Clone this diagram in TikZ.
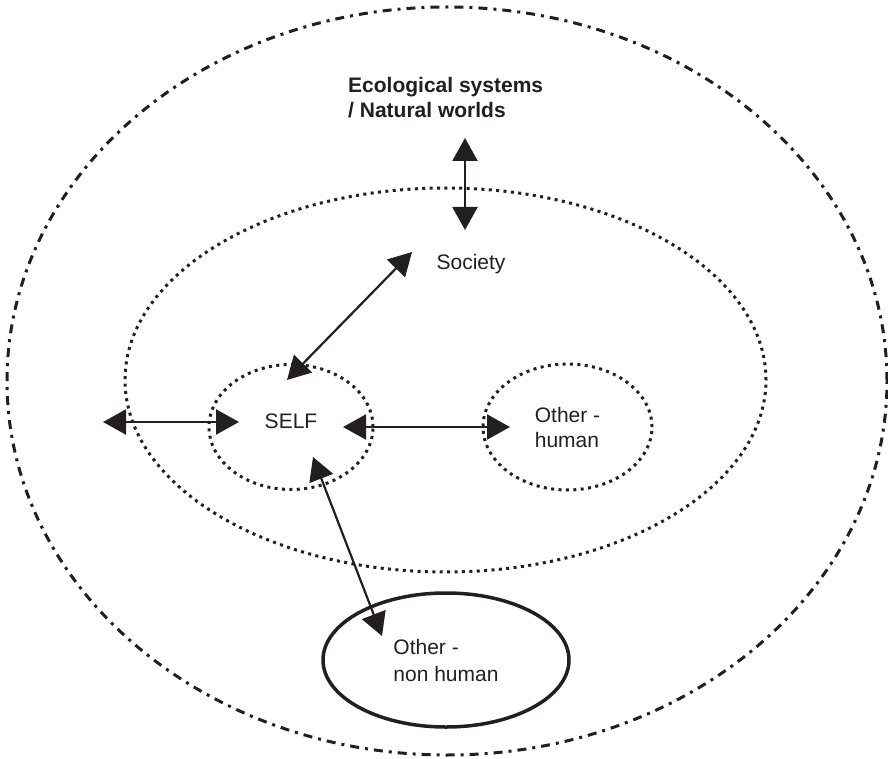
\documentclass[tikz,border=0pt]{standalone}
\usepackage{fontspec}
\setmainfont{Liberation Sans}
\usetikzlibrary{shapes.geometric,arrows.meta}

\definecolor{ink}{RGB}{35,31,32}
\tikzset{
  ring/.style={ellipse, draw, inner sep=0pt, line width=3pt, dash pattern=on 3pt off 4.4pt},
  world/.style={ellipse, draw, inner sep=0pt, line width=3pt, dash pattern=on 9pt off 6pt on 3pt off 6pt},
  link/.style={line width=2.2pt, {Triangle[length=23pt,width=25pt]}-{Triangle[length=23pt,width=25pt]}}
}

\begin{document}
\begin{tikzpicture}[x=1pt, y=-1pt, color=ink, font=\fontsize{21}{25}\selectfont]
    \useasboundingbox (0,0) rectangle (888,759);
    % the circles
    \node[world, minimum width=880pt, minimum height=748pt] (nature) at (447,381) {};
    \node[ring, minimum width=641pt, minimum height=384pt] (society) at (445.5,380) {};
    \node[ring, minimum width=164pt, minimum height=125pt, text depth=12pt] (self) at (291,427) {SELF};
    \node[ring, minimum width=169pt, minimum height=126pt, align=left] (human) at (567.5,427) {Other -\\human};
    \node[ellipse, draw, inner sep=0pt, line width=3.5pt, minimum width=246pt, minimum height=134pt, align=left, font=\fontsize{21}{27}\selectfont] (nonhuman) at (446,660) {Other -\\non human};
    \node[anchor=north west, inner sep=0pt, align=left, font=\bfseries\fontsize{21}{25}\selectfont] (eco) at (348,77) {Ecological systems\\/ Natural worlds};
    \node[inner sep=0pt] (soc) at (471,264) {Society};
    % arrow ends
    \coordinate (ecoTop) at (465,138);
    \coordinate (ecoBot) at (465,230);
    \coordinate (socUp) at (412,252);
    \coordinate (socDown) at (287,380);
    \coordinate (outL) at (103,422);
    \coordinate (outR) at (239,422);
    \coordinate (humL) at (343,427);
    \coordinate (humR) at (510,427);
    \coordinate (nonUp) at (313,457);
    \coordinate (nonDown) at (382,636);
    % links
    \draw[link] (ecoTop) -- (ecoBot);
    \draw[link] (socDown) -- (socUp);
    \draw[link] (outL) -- (outR);
    \draw[link] (humL) -- (humR);
    \draw[link] (nonUp) -- (nonDown);
\end{tikzpicture}
\end{document}
